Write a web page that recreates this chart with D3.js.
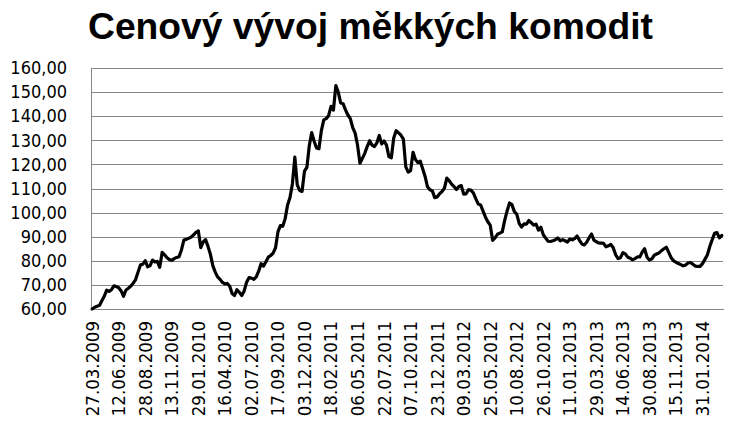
<!DOCTYPE html>
<html>
<head>
<meta charset="utf-8">
<script src="https://cdn.jsdelivr.net/npm/d3@7"></script>
<style>
  html, body { margin: 0; padding: 0; background: #fff; }
  svg { display: block; }
</style>
</head>
<body>
<svg id="chart" width="731" height="425"></svg>
<script>
const titleText = "Cenový vývoj měkkých komodit";

// weekly index values, first week 27.03.2009
const values = [
  60.0, 60.7, 61.1, 61.5, 63.4, 65.3, 67.8, 67.3, 68.0, 69.6,
  69.3, 68.8, 67.5, 65.3, 67.9, 68.6, 69.5, 70.7, 72.2, 75.3,
  78.3, 78.6, 80.0, 77.5, 78.0, 80.3, 79.5, 79.8, 77.3, 83.5,
  82.5, 81.3, 80.5, 80.2, 80.9, 81.4, 81.7, 84.5, 88.6, 88.9,
  89.3, 89.8, 90.8, 91.8, 92.4, 85.5, 87.8, 88.8, 86.0, 82.7,
  78.0, 75.3, 73.3, 72.3, 71.0, 70.4, 70.6, 69.4, 66.4, 65.6,
  68.0, 66.9, 65.6, 67.5, 71.1, 73.0, 72.8, 72.3, 73.3, 75.7,
  78.8, 77.8, 79.6, 81.5, 82.2, 83.2, 85.4, 92.0, 94.6, 94.3,
  97.5, 103.2, 106.3, 112.0, 123.0, 111.5, 109.2, 108.8, 117.2, 118.8,
  127.8, 133.2, 129.6, 126.8, 126.5, 134.0, 138.5, 139.0, 140.2, 144.1,
  142.5, 152.7, 150.0, 145.5, 145.2, 142.6, 140.5, 139.0, 135.3, 133.0,
  128.0, 120.5, 122.5, 124.6, 127.4, 129.8, 128.0, 127.4, 128.9, 132.0,
  128.5, 129.7, 128.0, 123.2, 122.7, 131.0, 134.0, 133.1, 132.1, 130.5,
  119.0, 116.8, 117.4, 125.0, 122.0, 120.8, 121.3, 118.2, 115.0, 110.7,
  109.5, 109.0, 106.2, 106.5, 107.8, 108.7, 110.1, 114.3, 113.2, 111.8,
  110.8, 109.6, 110.8, 111.2, 107.7, 107.8, 109.5, 109.3, 108.2, 105.8,
  103.6, 103.2, 100.7, 98.2, 96.2, 94.8, 88.5, 89.5, 91.0, 91.5,
  92.0, 96.8, 100.7, 104.0, 103.3, 100.4, 99.4, 95.5, 94.0, 95.3,
  95.2, 96.7, 95.8, 94.8, 95.2, 92.7, 93.9, 90.8, 89.4, 88.1,
  88.0, 88.3, 88.7, 89.5, 88.3, 88.8, 88.3, 87.8, 89.0, 88.7,
  89.2, 90.3, 88.5, 87.0, 86.6, 87.7, 89.6, 91.1, 88.6, 87.9,
  87.4, 87.3, 87.2, 85.8, 86.2, 86.8, 85.4, 82.5, 80.9, 81.3,
  83.4, 82.9, 81.5, 81.1, 80.4, 80.9, 81.6, 81.6, 83.6, 85.0,
  81.5, 80.3, 80.8, 82.3, 82.8, 83.3, 84.2, 85.0, 85.6, 83.5,
  81.3, 80.0, 79.4, 78.9, 78.4, 77.9, 78.3, 79.1, 79.3, 78.6,
  77.8, 77.7, 77.7, 78.8, 80.6, 82.4, 85.8, 88.7, 91.4, 91.7,
  89.5, 90.5
];

// category labels shown every 11th week
const tickLabels = [
  "27.03.2009", "12.06.2009", "28.08.2009", "13.11.2009", "29.01.2010",
  "16.04.2010", "02.07.2010", "17.09.2010", "03.12.2010", "18.02.2011",
  "06.05.2011", "22.07.2011", "07.10.2011", "23.12.2011", "09.03.2012",
  "25.05.2012", "10.08.2012", "26.10.2012", "11.01.2013", "29.03.2013",
  "14.06.2013", "30.08.2013", "15.11.2013", "31.01.2014"
];
const tickStep = 11;

const yTicks = [60, 70, 80, 90, 100, 110, 120, 130, 140, 150, 160];

const plot = { left: 91, right: 723, top: 68, bottom: 309 };
const gray = "#868686";
const labelFont = "'DejaVu Sans Condensed', 'DejaVu Sans', sans-serif";

const svg = d3.select("#chart");

const x = d3.scaleBand()
  .domain(d3.range(values.length))
  .range([plot.left, plot.right])
  .padding(0);
const xc = i => x(i) + x.bandwidth() / 2;

const y = d3.scaleLinear()
  .domain([d3.min(yTicks), d3.max(yTicks)])
  .range([plot.bottom, plot.top]);

// Title
svg.append("text")
  .attr("x", 88)
  .attr("y", 38.5)
  .attr("text-anchor", "start")
  .attr("font-family", "'Liberation Sans', Arial, sans-serif")
  .attr("font-weight", "bold")
  .attr("font-size", 36)
  .attr("textLength", 565)
  .attr("lengthAdjust", "spacingAndGlyphs")
  .attr("fill", "#000")
  .text(titleText);

// Y axis with gridlines
const yAxis = d3.axisLeft(y)
  .tickValues(yTicks)
  .tickSize(-(plot.right - plot.left))
  .tickPadding(24)
  .tickFormat(d => d.toFixed(2).replace(".", ","));

const gy = svg.append("g")
  .attr("transform", `translate(${plot.left},0)`)
  .call(yAxis);
gy.select(".domain").remove();
gy.selectAll(".tick line")
  .attr("stroke", gray)
  .attr("stroke-width", 1)
  .attr("shape-rendering", "crispEdges");
gy.selectAll(".tick text")
  .attr("font-family", labelFont)
  .attr("font-size", 18)
  .attr("fill", "#000");

// Left axis line
svg.append("line")
  .attr("x1", plot.left).attr("x2", plot.left)
  .attr("y1", y(160)).attr("y2", y(60))
  .attr("stroke", gray)
  .attr("stroke-width", 1)
  .attr("shape-rendering", "crispEdges");

// X axis labels (rotated)
const xAxis = d3.axisBottom(x)
  .tickValues(tickLabels.map((_, k) => k * tickStep))
  .tickSize(0)
  .tickPadding(0)
  .tickFormat(i => tickLabels[i / tickStep]);

const gx = svg.append("g")
  .attr("transform", `translate(0,${plot.bottom})`)
  .call(xAxis);
gx.select(".domain")
  .attr("stroke", gray)
  .attr("shape-rendering", "crispEdges");
gx.selectAll(".tick text")
  .attr("font-family", labelFont)
  .attr("font-size", 18.5)
  .attr("fill", "#000")
  .attr("text-anchor", "end")
  .attr("transform", "translate(0,12) rotate(-90)")
  .attr("x", 0)
  .attr("y", 0)
  .attr("dy", "0.35em");

// Data line
const line = d3.line()
  .x((d, i) => xc(i))
  .y(d => y(d));

svg.append("path")
  .datum(values)
  .attr("fill", "none")
  .attr("stroke", "#000")
  .attr("stroke-width", 3.2)
  .attr("stroke-linejoin", "round")
  .attr("stroke-linecap", "round")
  .attr("d", line);
</script>
</body>
</html>
